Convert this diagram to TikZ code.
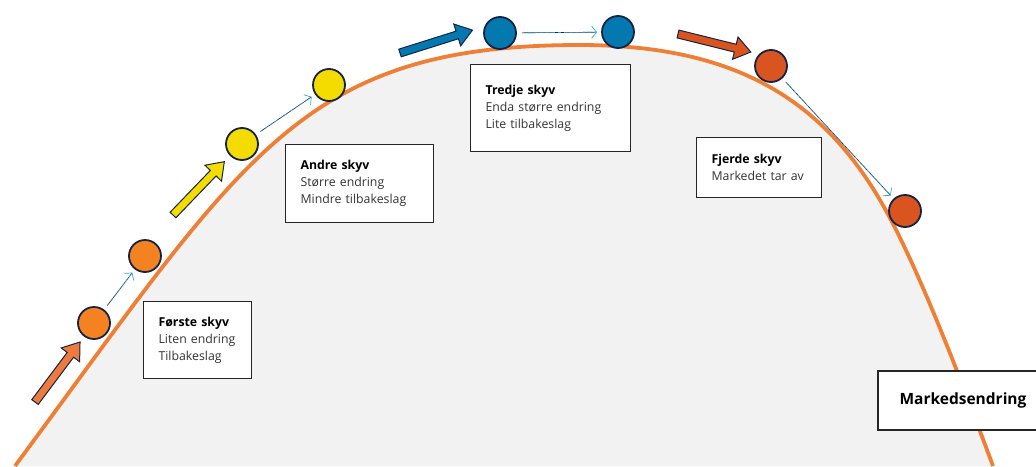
\documentclass[tikz,border=0pt]{standalone}
\usepackage{fontspec}
\setmainfont{Open Sans}
\usetikzlibrary{arrows.meta}
\definecolor{curveorange}{HTML}{F07F36}
\definecolor{areagray}{HTML}{F2F2F2}
\definecolor{ballorange}{HTML}{F58220}
\definecolor{ballyellow}{HTML}{F5DC00}
\definecolor{ballblue}{HTML}{0479B0}
\definecolor{ballred}{HTML}{D9541E}
\definecolor{navy}{HTML}{142346}
\definecolor{arroworange}{HTML}{EE7B3E}
\definecolor{linkcyan}{HTML}{2AA7DF}
\definecolor{textgray}{HTML}{333333}
\newcommand\blockarrow[4]{%
  \begin{scope}[shift={#1},rotate=#2]
    \filldraw[fill=#4,draw=navy,line width=1pt,line join=miter]
      (0,-4) -- ({#3-16},-4) -- ({#3-16},-11.5) -- (#3,0) -- ({#3-16},11.5) -- ({#3-16},4) -- (0,4) -- cycle;
  \end{scope}}
\newcommand\marketcurve{(15,466) .. controls (245,155) and (300,45) .. (580,45)
  .. controls (730,45) and (817,96) .. (877,195)
  .. controls (912,253) and (953,358) .. (993,466)}
\begin{document}
\begin{tikzpicture}[x=1pt,y=-1pt,
  ball/.style={circle,draw=navy,line width=1.8pt,minimum size=32pt,inner sep=0pt},
  infobox/.style={draw=black!85,line width=1.1pt,fill=white,anchor=north west,
    align=left,inner xsep=15pt,inner ysep=0pt,
    font=\fontsize{12.3}{17}\selectfont,text=textgray},
  linkline/.style={draw=navy,line width=0.6pt,shorten <=5pt,shorten >=4pt,
    -{Straight Barb[length=5pt,width=12pt,line width=0.7pt,color=linkcyan]}},
  linkdash/.style={draw=linkcyan,line width=0.6pt,dash pattern=on 3pt off 3pt,shorten <=5pt,shorten >=6pt}]
\useasboundingbox (0,0) rectangle (1036,466);
% area under curve
\fill[areagray] \marketcurve -- cycle;
\draw[curveorange,line width=3.8pt] \marketcurve;
% block arrows
\blockarrow{(35,402)}{53.1}{75}{arroworange}
\blockarrow{(173,215)}{46.1}{74}{ballyellow}
\blockarrow{(400,53)}{17.5}{76}{ballblue}
\blockarrow{(678,34)}{-13.9}{75}{ballred}
% balls
\node[ball,fill=ballorange] (b1) at (94,323) {};
\node[ball,fill=ballorange] (b2) at (145,256) {};
\node[ball,fill=ballyellow] (b3) at (242,144) {};
\node[ball,fill=ballyellow] (b4) at (329,85) {};
\node[ball,fill=ballblue] (b5) at (500,33) {};
\node[ball,fill=ballblue] (b6) at (618,32) {};
\node[ball,fill=ballred] (b7) at (771,66) {};
\node[ball,fill=ballred] (b8) at (905,211) {};
% thin connectors
\draw[linkline] (b1) -- (b2);
\draw[linkdash] (b1) -- (b2);
\draw[linkline] (b3) -- (b4);
\draw[linkdash] (b3) -- (b4);
\draw[linkline] (b5) -- (b6);
\draw[linkdash] (b5) -- (b6);
\draw[linkline] (b7) -- (b8);
\draw[linkdash] (b7) -- (b8);
% info boxes
\node[infobox,text width=78pt,minimum height=77pt] (t1) at (143,301)
  {\textbf{\color{black}Første skyv}\\Liten endring\\Tilbakeslag};
\node[infobox,text width=118pt,minimum height=78pt] (t2) at (285,144)
  {\textbf{\color{black}Andre skyv}\\Større endring\\Mindre tilbakeslag};
\node[infobox,text width=130pt,minimum height=87pt] (t3) at (470,64)
  {\textbf{\color{black}Tredje skyv}\\Enda større endring\\Lite tilbakeslag};
\node[infobox,text width=95pt,minimum height=60pt] (t4) at (696,137)
  {\textbf{\color{black}Fjerde skyv}\\Markedet tar av};
\node[draw=black!85,line width=1.1pt,fill=white,minimum width=170pt,minimum height=59pt,
  font=\fontsize{15.5}{18}\selectfont\bfseries] (t5) at (963,400.5) {Markedsendring};
\end{tikzpicture}
\end{document}
